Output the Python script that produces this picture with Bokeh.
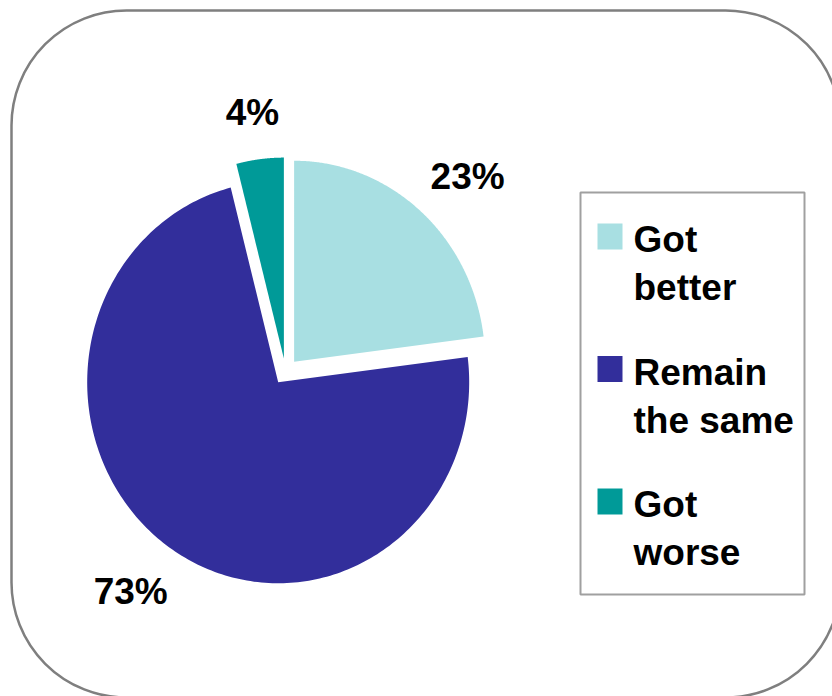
import numpy as np
from bokeh.plotting import figure
from bokeh.models import Range1d, BoxAnnotation, ColumnDataSource
from bokeh.core.properties import value
from bokeh.embed import file_html
from bokeh.resources import INLINE

# ---- data ----
categories = ["Got better", "Remain the same", "Got worse"]
percent = [23, 73, 4]
labels = ["23%", "73%", "4%"]
colors = ["#A8DFE2", "#322E9B", "#009A98"]

# ---- layout / style constants (pixels) ----
W, H = 832, 696
CX, CY = 285, H - 371          # pie centre
RX, RY = 191, 201              # pie radii
EXPLODE = 13                   # slice explosion
LK = 1.18                      # label distance factor
FONT = value("Liberation Sans")
FS = 37
TSHIFT = 11                    # baseline correction

p = figure(width=W, height=H, output_backend="svg", toolbar_location=None,
           x_range=Range1d(0, W), y_range=Range1d(0, H), min_border=0,
           outline_line_color=None, background_fill_color="white",
           border_fill_color="white")
p.axis.visible = False
p.grid.visible = False

# rounded outer frame
p.add_layout(BoxAnnotation(left=11, right=840, top=H - 10, bottom=H - 697,
                           fill_color=None, fill_alpha=0, line_color="#7f7f7f",
                           line_alpha=1.0, line_width=2.5, border_radius=115))

# pie slices (clockwise from 12 o'clock)
vals = np.array(percent, dtype=float)
frac = vals / vals.sum()
ends = np.cumsum(frac) * 2 * np.pi
starts = ends - frac * 2 * np.pi
mids = (starts + ends) / 2
xs, ys = [], []
for s, e, m in zip(starts, ends, mids):
    t = np.linspace(s, e, 240)
    ox = CX + EXPLODE * np.sin(m)
    oy = CY + EXPLODE * np.cos(m)
    xs.append(np.concatenate([[ox], ox + RX * np.sin(t), [ox]]).tolist())
    ys.append(np.concatenate([[oy], oy + RY * np.cos(t), [oy]]).tolist())
p.patches(xs="xs", ys="ys", fill_color="color", line_color=None,
          source=ColumnDataSource(dict(xs=xs, ys=ys, color=colors)))

# percentage labels
lx, ly = [], []
cap = 0.716 * FS
for lab, m in zip(labels, mids):
    w = len(lab) * 0.667 * FS
    lx.append(CX + (EXPLODE + LK * RX + w / 2) * np.sin(m))
    ly.append(CY + (EXPLODE + LK * RY + cap / 2) * np.cos(m) - cap / 2 + TSHIFT)
p.text(x=lx, y=ly, text=labels, text_font=FONT, text_font_size=f"{FS}px",
       text_font_style="bold", text_align="center", text_baseline="alphabetic",
       text_color="#000000")

# legend box
p.add_layout(BoxAnnotation(left=580, right=804, top=H - 192, bottom=H - 594,
                           fill_color=None, fill_alpha=0, line_color="#a0a0a0",
                           line_alpha=1.0, line_width=2))
n = len(categories)
sw_y = [H - (236 + i * 132.5) for i in range(n)]
p.rect(x=[609.5] * n, y=sw_y, width=25, height=26, fill_color=colors, line_color=None)
tx, ty, tt = [], [], []
for cat, yc in zip(categories, sw_y):
    first, rest = cat.split(" ", 1)
    for j, line in enumerate([first, rest]):
        tx.append(633)
        ty.append(yc - 14 - j * 48 + TSHIFT)
        tt.append(line)
p.text(x=tx, y=ty, text=tt, text_font=FONT, text_font_size=f"{FS}px",
       text_font_style="bold", text_align="left", text_baseline="alphabetic",
       text_color="#000000")

open("out.html", "w").write(file_html(p, INLINE))
